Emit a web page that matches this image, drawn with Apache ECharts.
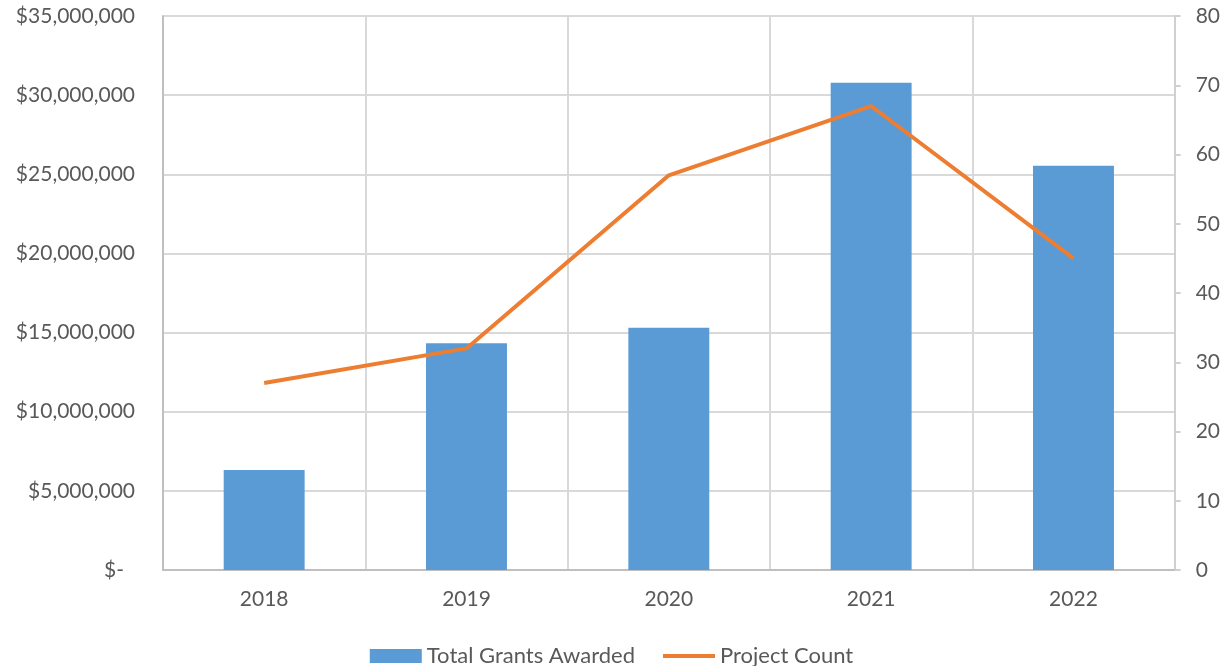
<!DOCTYPE html>
<html>
<head>
<meta charset="utf-8">
<script src="https://cdn.jsdelivr.net/npm/echarts@6/dist/echarts.min.js"></script>
<style>html,body{margin:0;padding:0;background:#fff}#c{width:1223px;height:666px}</style>
</head>
<body>
<div id="c"></div>
<script>
const categories = ['2018', '2019', '2020', '2021', '2022'];
const grantsAwarded = [6320000, 14320000, 15310000, 30790000, 25540000];
const projectCount = [27, 32, 57, 67, 45];
const seriesNames = ['Total Grants Awarded', 'Project Count'];

const FONT = 'Lato';
const TXT = '#595959';
const chart = echarts.init(document.getElementById('c'));
chart.setOption({
  animation: false,
  textStyle: { fontFamily: FONT },
  grid: { left: 163, right: 48, top: 16, bottom: 96, containLabel: false },
  legend: {
    top: 640, left: 'center',
    itemWidth: 52, itemHeight: 14, itemGap: 28,
    symbolKeepAspect: true,
    textStyle: { color: TXT, fontSize: 22, fontFamily: FONT },
    data: [
      { name: seriesNames[0], icon: 'rect' },
      { name: seriesNames[1], icon: 'path://M0,0h52v4h-52z' }
    ]
  },
  xAxis: {
    type: 'category', data: categories, boundaryGap: true,
    axisLine: { lineStyle: { color: '#bfbfbf', width: 2 } },
    axisTick: { show: false },
    axisLabel: { color: TXT, fontSize: 21, margin: 19, fontFamily: FONT },
    splitLine: { show: true, lineStyle: { color: '#d9d9d9', width: 2 } }
  },
  yAxis: [
    {
      type: 'value', min: 0, max: 35000000, interval: 5000000,
      axisLine: { show: true, lineStyle: { color: '#bfbfbf', width: 2 } },
      axisTick: { show: false },
      axisLabel: {
        color: TXT, fontSize: 21, margin: 28, fontFamily: FONT,
        formatter: v => v === 0 ? '{z|$-}' : '$' + v.toLocaleString('en-US'),
        rich: { z: { color: TXT, fontSize: 21, fontFamily: FONT, padding: [0, 11, 0, 0] } }
      },
      splitLine: { show: true, lineStyle: { color: '#d9d9d9', width: 2 } }
    },
    {
      type: 'value', min: 0, max: 80, interval: 10, position: 'right',
      axisLine: { show: true, lineStyle: { color: '#d0d0d0', width: 2 } },
      axisTick: { show: true, length: 6, lineStyle: { color: '#d0d0d0', width: 2 } },
      axisLabel: { color: TXT, fontSize: 21, margin: 21, fontFamily: FONT },
      splitLine: { show: false }
    }
  ],
  series: [
    {
      name: seriesNames[0], type: 'bar', yAxisIndex: 0, data: grantsAwarded,
      barWidth: '40%', itemStyle: { color: '#5b9bd5' }
    },
    {
      name: seriesNames[1], type: 'line', yAxisIndex: 1, data: projectCount,
      symbol: 'none', lineStyle: { color: '#ed7d31', width: 4 }, itemStyle: { color: '#ed7d31' }
    }
  ]
});
</script>
</body>
</html>
